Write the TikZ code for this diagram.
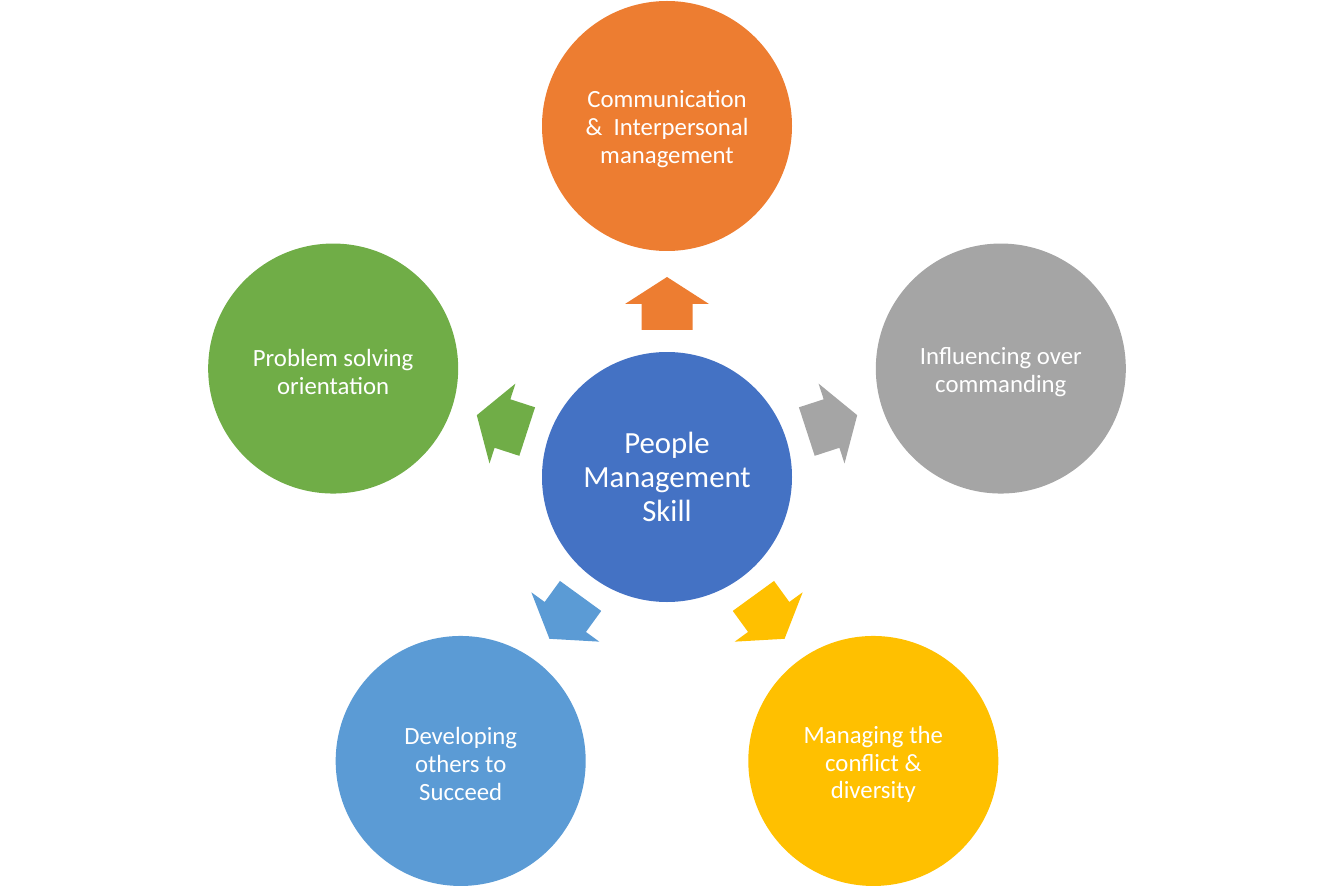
\documentclass[tikz,border=0pt]{standalone}
\usepackage{fontspec}
\setmainfont{Carlito}
\definecolor{cOrange}{HTML}{ED7D31}
\definecolor{cGray}{HTML}{A5A5A5}
\definecolor{cBlue}{HTML}{4472C4}
\definecolor{cGreen}{HTML}{70AD47}
\definecolor{cLight}{HTML}{5B9BD5}
\definecolor{cYellow}{HTML}{FFC000}
\newcommand{\topstrut}{\rule{0pt}{13.7pt}}
\tikzset{
  bubble/.style={circle, minimum size=250*0.02cm, inner sep=0pt, text=white, align=center,
    font=\fontsize{14.1pt}{15.9pt}\selectfont},
  hub/.style={circle, minimum size=250*0.02cm, inner sep=0pt, text=white, align=center,
    font=\fontsize{17.5pt}{19.4pt}\selectfont},
}
\newcommand{\blockarrow}[2]{%
  \fill[#2, rotate=#1] (147,-25.5) -- (173,-25.5) -- (173,-42) -- (200,0) -- (173,42) -- (173,25.5) -- (147,25.5) -- cycle;}
\begin{document}
\begin{tikzpicture}[x=0.02cm,y=0.02cm]
\useasboundingbox (-667,-412) rectangle (667,477);
\node[hub, fill=cBlue] (hubnode) at (0,0) {People\\Management\\Skill};
\node[bubble, fill=cOrange] (comm) at (90:351) {\topstrut Communication\\\&\ \ Interpersonal\\management};
\node[bubble, fill=cGray] (infl) at (18:351) {\topstrut Influencing over\\commanding};
\node[bubble, fill=cGreen] (prob) at (162:351) {\topstrut Problem solving\\orientation};
\node[bubble, fill=cLight] (dev) at (234:351) {\topstrut Developing\\others to\\Succeed};
\node[bubble, fill=cYellow] (mng) at (306:351) {\topstrut Managing the\\conflict \&\\diversity};
\blockarrow{90}{cOrange}
\blockarrow{18}{cGray}
\blockarrow{162}{cGreen}
\blockarrow{234}{cLight}
\blockarrow{306}{cYellow}
\end{tikzpicture}
\end{document}
